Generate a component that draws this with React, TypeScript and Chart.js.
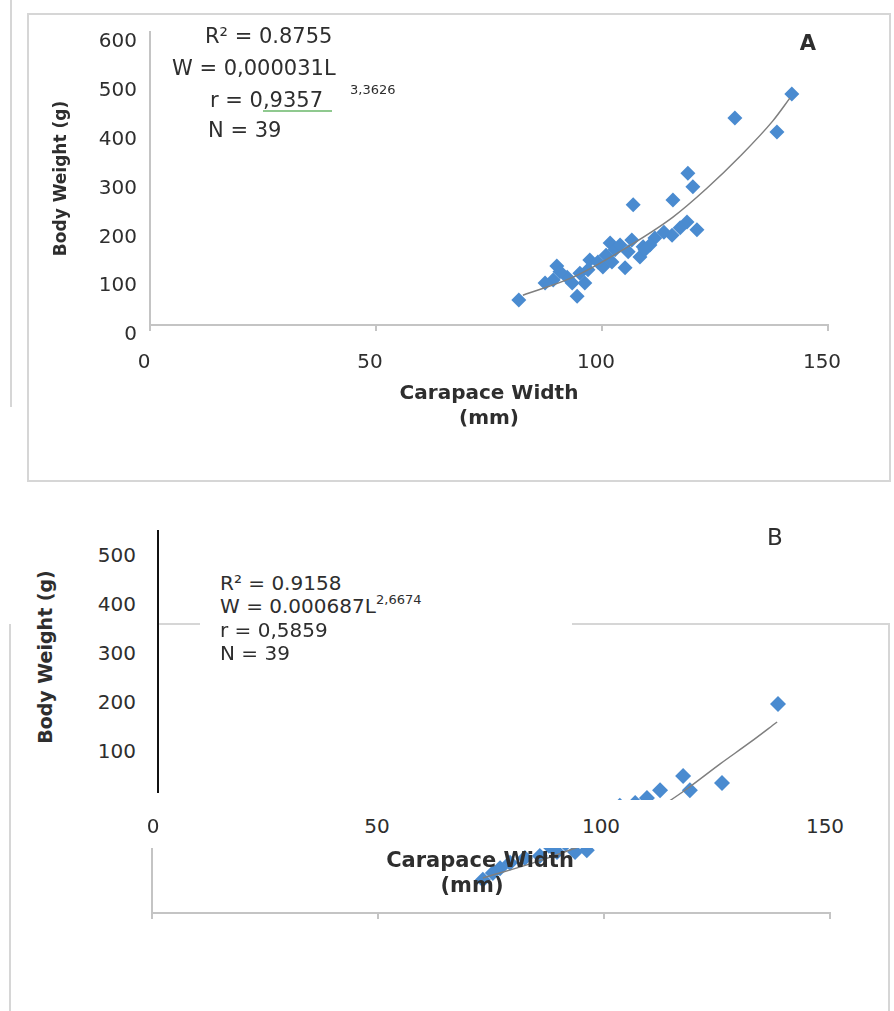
import { useEffect, useRef } from 'react';
import { Chart, registerables } from 'chart.js';

Chart.register(...registerables);

// Panel A: carapace width (mm) against body weight (g)
const carapaceA = [81.6, 94.5, 90.0, 89.2, 92.3, 95.1, 97.3, 100.2, 101.8, 102.9, 105.1, 106.9, 108.4, 109.1, 111.7, 115.5, 115.7, 118.8, 119.0, 120.1, 121.0, 129.4, 138.7, 142.0, 90.7, 93.4, 96.9, 99.1, 100.9, 104.0, 105.8, 110.6, 113.7, 117.3, 87.4, 102.2, 96.2, 106.6, 109.5];
const weightA = [51, 59, 121, 92, 98, 106, 133, 119, 168, 154, 117, 246, 139, 160, 178, 184, 256, 211, 311, 283, 195, 424, 395, 473, 109, 86, 113, 129, 143, 164, 150, 164, 190, 199, 86, 129, 86, 174, 154];
const trendCarapaceA = [82.5, 93.6, 104.6, 115.7, 123.2, 130.5, 137.8, 141.6];
const trendWeightA = [61, 98, 154, 221, 280, 345, 418, 465];

// Panel B: same axes, partly hidden behind the pasted label boxes
const carapaceB = [138.5, 126.1, 117.5, 119.0, 112.4, 109.5, 106.9, 103.5, 101.3, 99.1, 98.0, 104.5, 108.0, 100.5, 96.2, 93.6, 89.6, 85.8, 82.5, 79.2, 77.0, 75.4, 73.2, 91.5, 87.8, 95.0];
const weightB = [429, 267, 281, 252, 252, 236, 226, 220, 201, 181, 160, 190, 210, 168, 129, 125, 125, 117, 113, 103, 92, 82, 68, 142, 138, 150];
const trendCarapaceB = [73.2, 85.0, 99.1, 113.1, 118.4, 125.7, 132.3, 138.3];
const trendWeightB = [72, 105, 154, 222, 255, 306, 350, 392];

const xTicks = [0, 50, 100, 150];
const yTicksA = [0, 100, 200, 300, 400, 500, 600];
const yTicksB = [100, 200, 300, 400, 500];

const FONT = '"DejaVu Sans", "Liberation Sans", sans-serif';
const BLUE = '#4a8bd0';
const TREND = '#7f7f7f';
const AXIS = '#c4c4c4';
const FRAME = '#d6d6d6';
const TEXT = '#2e2e2e';

type TxtProps = {
    x: number;
    y: number;
    size: number;
    align?: 'left' | 'center' | 'right';
    bold?: boolean;
    rotate?: number;
    children: React.ReactNode;
};

const Txt = ({ x, y, size, align = 'left', bold, rotate, children }: TxtProps) => {
    const tx = align === 'center' ? '-50%' : align === 'right' ? '-100%' : '0';
    return (
        <div
            style={{
                position: 'absolute',
                left: x,
                top: y,
                transform: `translate(${tx}, -50%)` + (rotate ? ` rotate(${rotate}deg)` : ''),
                fontFamily: FONT,
                fontSize: size,
                fontWeight: bold ? 700 : 400,
                color: TEXT,
                whiteSpace: 'nowrap',
                lineHeight: 1,
            }}
        >
            {children}
        </div>
    );
};

const Box = ({ x, y, w, h, color }: { x: number; y: number; w: number; h: number; color: string }) => (
    <div style={{ position: 'absolute', left: x, top: y, width: w, height: h, background: color }} />
);

const PanelA = () => {
    const chartRef = useRef<HTMLCanvasElement | null>(null);

    useEffect(() => {
        if (!chartRef.current) return;
        const ctx = chartRef.current.getContext('2d');
        if (!ctx) return;

        const chart = new Chart(ctx, {
            type: 'scatter',
            data: {
                datasets: [
                    {
                        type: 'line',
                        label: 'Power trend',
                        data: trendCarapaceA.map((x, i) => ({ x, y: trendWeightA[i] })),
                        borderColor: TREND,
                        borderWidth: 1.5,
                        pointRadius: 0,
                        cubicInterpolationMode: 'monotone',
                        fill: false,
                        order: 0,
                    },
                    {
                        label: 'Body weight',
                        data: carapaceA.map((x, i) => ({ x, y: weightA[i] })),
                        pointStyle: 'rectRot',
                        pointRadius: 7.5,
                        backgroundColor: BLUE,
                        borderWidth: 0,
                        order: 1,
                    },
                ],
            },
            options: {
                responsive: false,
                animation: false,
                layout: { padding: { left: 0, top: 32, right: 66, bottom: 0 } },
                plugins: { legend: { display: false }, tooltip: { enabled: false } },
                scales: {
                    x: {
                        type: 'linear',
                        min: 0,
                        max: 150,
                        afterBuildTicks: (axis: any) => {
                            axis.ticks = xTicks.map(value => ({ value }));
                        },
                        ticks: { font: { family: FONT, size: 20 }, color: TEXT, padding: 20, labelOffset: -6 },
                        grid: { drawOnChartArea: false, drawTicks: true, tickLength: 6, color: AXIS, lineWidth: 2 },
                        border: { color: AXIS, width: 2 },
                        title: {
                            display: true,
                            text: ['Carapace Width', '(mm)'],
                            font: { family: FONT, size: 20, weight: 'bold', lineHeight: 1.25 },
                            color: TEXT,
                            padding: { top: 0, bottom: 69 },
                        },
                        afterFit: (s: any) => {
                            s.height = 175;
                            s.paddingLeft = 0;
                            s.paddingRight = 0;
                        },
                    },
                    y: {
                        type: 'linear',
                        min: 0,
                        max: 600,
                        afterBuildTicks: (axis: any) => {
                            axis.ticks = yTicksA.map(value => ({ value }));
                        },
                        ticks: { font: { family: FONT, size: 20 }, color: TEXT, padding: 13, labelOffset: 10 },
                        grid: { display: false, drawTicks: false },
                        border: { color: AXIS, width: 2 },
                        title: {
                            display: true,
                            text: 'Body Weight (g)',
                            font: { family: FONT, size: 17, weight: 'bold' },
                            color: TEXT,
                            padding: { top: 51, bottom: 0 },
                        },
                        afterFit: (s: any) => {
                            s.width = 150;
                            s.paddingTop = 0;
                            s.paddingBottom = 0;
                        },
                    },
                },
            },
        });

        return () => {
            chart.destroy();
        };
    }, []);

    return (
        <>
            <div style={{ position: 'absolute', left: 27, top: 13, width: 860, height: 465, border: `2px solid ${FRAME}` }} />
            <Box x={10} y={0} w={2} h={407} color={FRAME} />
            <canvas ref={chartRef} width={894} height={500} style={{ position: 'absolute', left: 0, top: 0, width: 894, height: 500 }} />
            <Txt x={205} y={36} size={21}>R² = 0.8755</Txt>
            <Txt x={172} y={68} size={21}>W = 0,000031L</Txt>
            <Txt x={350} y={89} size={13}>3,3626</Txt>
            <Txt x={210} y={100} size={21}>r = 0,9357</Txt>
            <Box x={263} y={110} w={69} h={2} color="#8fc98f" />
            <Txt x={208} y={130} size={21}>N = 39</Txt>
            <Txt x={808} y={43} size={21} align="center" bold>A</Txt>
        </>
    );
};

const PanelB = () => {
    const chartRef = useRef<HTMLCanvasElement | null>(null);

    useEffect(() => {
        if (!chartRef.current) return;
        const ctx = chartRef.current.getContext('2d');
        if (!ctx) return;

        const chart = new Chart(ctx, {
            type: 'scatter',
            data: {
                datasets: [
                    {
                        type: 'line',
                        label: 'Power trend',
                        data: trendCarapaceB.map((x, i) => ({ x, y: trendWeightB[i] })),
                        borderColor: TREND,
                        borderWidth: 1.5,
                        pointRadius: 0,
                        cubicInterpolationMode: 'monotone',
                        fill: false,
                        order: 0,
                    },
                    {
                        label: 'Body weight',
                        data: carapaceB.map((x, i) => ({ x, y: weightB[i] })),
                        pointStyle: 'rectRot',
                        pointRadius: 8,
                        backgroundColor: BLUE,
                        borderWidth: 0,
                        order: 1,
                    },
                ],
            },
            options: {
                responsive: false,
                animation: false,
                layout: { padding: { left: 0, top: 145, right: 64, bottom: 0 } },
                plugins: { legend: { display: false }, tooltip: { enabled: false } },
                scales: {
                    x: {
                        type: 'linear',
                        min: 0,
                        max: 150,
                        afterBuildTicks: (axis: any) => {
                            axis.ticks = xTicks.map(value => ({ value }));
                        },
                        ticks: { display: false },
                        grid: { drawOnChartArea: false, drawTicks: true, tickLength: 6, color: AXIS, lineWidth: 2 },
                        border: { color: AXIS, width: 2 },
                        afterFit: (s: any) => {
                            s.height = 98;
                            s.paddingLeft = 0;
                            s.paddingRight = 0;
                        },
                    },
                    y: {
                        type: 'linear',
                        min: 0,
                        max: 550,
                        ticks: { display: false },
                        grid: { display: false, drawTicks: false },
                        border: { color: AXIS, width: 2 },
                        afterFit: (s: any) => {
                            s.width = 152;
                            s.paddingTop = 0;
                            s.paddingBottom = 0;
                        },
                    },
                },
            },
        });

        return () => {
            chart.destroy();
        };
    }, []);

    return (
        <>
            <canvas ref={chartRef} width={894} height={511} style={{ position: 'absolute', left: 0, top: 500, width: 894, height: 511 }} />
            {/* pasted label boxes lying over the plot */}
            <Box x={12} y={520} w={145} h={280} color="#ffffff" />
            <Box x={12} y={800} w={876} h={48} color="#ffffff" />
            <Box x={200} y={540} w={372} h={133} color="#ffffff" />
            <Box x={157} y={623} w={43} h={2} color={FRAME} />
            <Box x={572} y={623} w={318} h={2} color={FRAME} />
            <Box x={9} y={624} w={2} h={387} color={FRAME} />
            <Box x={888} y={624} w={2} h={387} color={FRAME} />
            <Box x={157} y={530} w={2} h={263} color="#111111" />
            {yTicksB.map(v => (
                <Txt key={v} x={136} y={800 - v * 0.49} size={20} align="right">{v}</Txt>
            ))}
            {xTicks.map(v => (
                <Txt key={v} x={153 + v * 4.48} y={826} size={20} align="center">{v}</Txt>
            ))}
            <Txt x={45} y={657} size={19} align="center" bold rotate={-90}>Body Weight (g)</Txt>
            <Txt x={480} y={860} size={21} align="center" bold>Carapace Width</Txt>
            <Txt x={472} y={885} size={21} align="center" bold>(mm)</Txt>
            <Txt x={220} y={583} size={20}>R² = 0.9158</Txt>
            <Txt x={220} y={606} size={20}>W = 0.000687L</Txt>
            <Txt x={376} y={599} size={13}>2,6674</Txt>
            <Txt x={220} y={630} size={20}>r = 0,5859</Txt>
            <Txt x={220} y={653} size={20}>N = 39</Txt>
            <Txt x={775} y={537} size={23} align="center">B</Txt>
        </>
    );
};

const App = () => (
    <div style={{ position: 'absolute', left: 0, top: 0, width: 894, height: 1011, overflow: 'hidden', background: '#ffffff' }}>
        <PanelA />
        <PanelB />
    </div>
);

export default App;
